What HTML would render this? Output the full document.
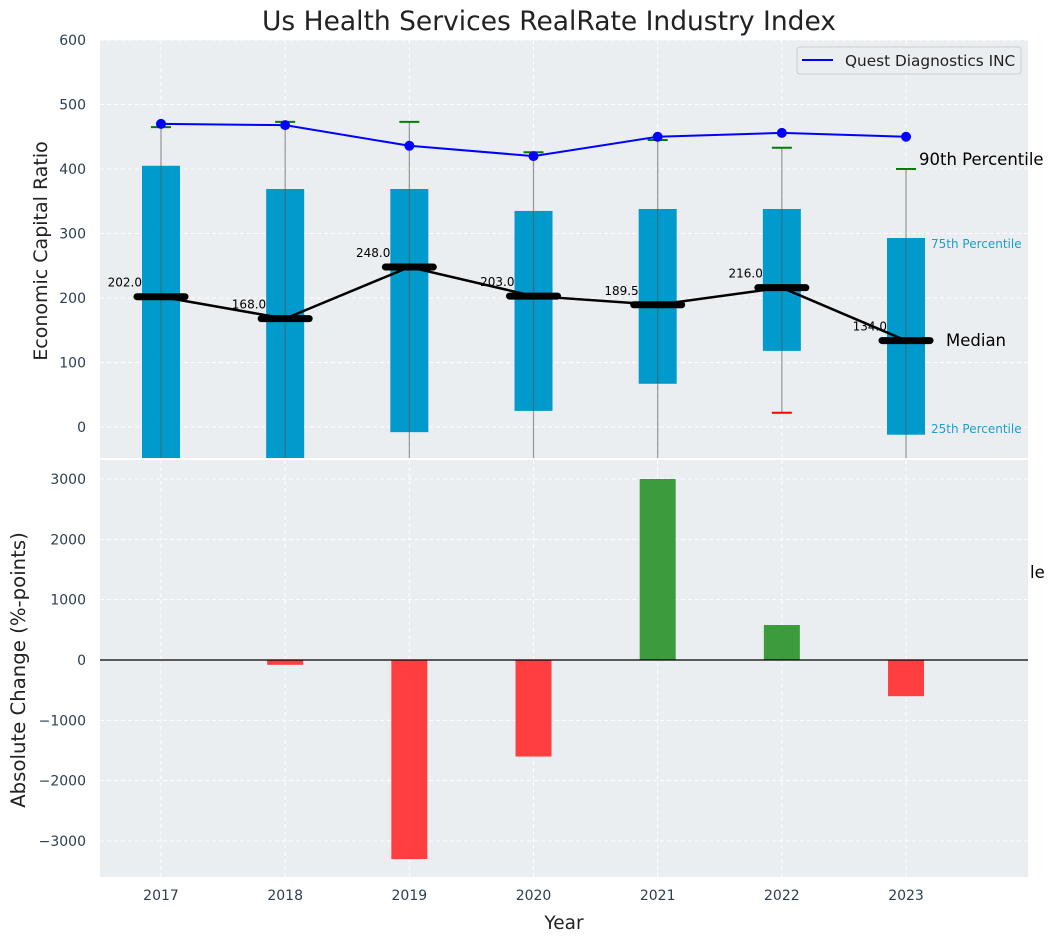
<!DOCTYPE html>
<html><head><meta charset="utf-8"><style>
body{margin:0;background:#fff;}
svg{display:block;font-family:"DejaVu Sans","Liberation Sans",sans-serif;}
</style></head><body>
<svg id="c" width="1054" height="942" viewBox="0 0 1054 942"></svg>
<script>
const years=[2017,2018,2019,2020,2021,2022,2023];
const q75=[405,369,369,335,338,338,293];
const q25=[-100,-100,-8,25,67,118,-12];
const p90=[465,473,473,426,445,433,400];
const p10=[-200,-200,-200,-200,-200,22,-200];
const medians=[202,168,248,203,189.5,216,134];
const quest=[470,468,436,420,450,456,450];
const changes=[0,-80,-3300,-1600,3000,580,-600];
const topTicks=[0,100,200,300,400,500,600];
const botTicks=[-3000,-2000,-1000,0,1000,2000,3000];

const NS="http://www.w3.org/2000/svg";
const svg=document.getElementById('c');
function el(tag,attrs,parent){const e=document.createElementNS(NS,tag);for(const k in attrs)e.setAttribute(k,attrs[k]);(parent||svg).appendChild(e);return e;}
const L=100,R=1028;
const X=y=>161+(y-2017)*124.17;
const T0=40,T1=458,B0=460,B1=877;
const yT=v=>427-v*0.645;
const yB=v=>660-v*0.06033;
function txt(x,y,s,attrs,name){const t=el('text',Object.assign({x:x,y:y},attrs));t.textContent=s;return t;}

const bgT=el('rect',{x:L,y:T0,width:R-L,height:T1-T0,fill:'#eaeef0'});


const clipT=el('clipPath',{id:'ct'});el('rect',{x:L,y:T0,width:R-L,height:T1-T0},clipT);
const clipB=el('clipPath',{id:'cb'});el('rect',{x:L,y:B0,width:R-L,height:B1-B0},clipB);
const gT=el('g',{'clip-path':'url(#ct)'});


topTicks.forEach(v=>{el('line',{x1:L,x2:R,y1:yT(v),y2:yT(v),stroke:'#fff','stroke-dasharray':'4,3','stroke-width':1},gT);
 txt(L-14,yT(v)+5,String(v),{'text-anchor':'end','font-size':14,fill:'#2c3e50'},'y-tick-label');});
years.forEach(y=>el('line',{x1:X(y),x2:X(y),y1:T0,y2:T1,stroke:'#fff','stroke-dasharray':'4,3'},gT));
years.forEach((y,i)=>{
 const b=el('rect',{x:X(y)-19,y:yT(q75[i]),width:38,height:yT(q25[i])-yT(q75[i]),fill:'#009bcc'},gT);
 
 
 el('line',{x1:X(y),x2:X(y),y1:yT(p90[i]),y2:yT(p10[i]),stroke:'#555','stroke-opacity':0.6,'stroke-width':1.2},gT);
 el('line',{x1:X(y)-10,x2:X(y)+10,y1:yT(p90[i]),y2:yT(p90[i]),stroke:'green','stroke-width':2},gT);
 el('line',{x1:X(y)-10,x2:X(y)+10,y1:yT(p10[i]),y2:yT(p10[i]),stroke:'red','stroke-width':2},gT);
});
el('polyline',{points:years.map((y,i)=>X(y)+','+yT(medians[i])).join(' '),fill:'none',stroke:'#000','stroke-width':2.5},gT);
years.forEach((y,i)=>{
 const m=el('line',{x1:X(y)-24,x2:X(y)+24,y1:yT(medians[i]),y2:yT(medians[i]),stroke:'#000','stroke-width':7,'stroke-linecap':'round'},gT);
 
 
 txt(X(y)-19,yT(medians[i])-10,medians[i].toFixed(1),{'text-anchor':'end','font-size':12,fill:'#000'},'median-label');
});
el('polyline',{points:years.map((y,i)=>X(y)+','+yT(quest[i])).join(' '),fill:'none',stroke:'#0000ff','stroke-width':2},gT);
years.forEach((y,i)=>{const c=el('circle',{cx:X(y),cy:yT(quest[i]),r:5,fill:'#0000ff'},gT);
 
 });
txt(919,165,'90th Percentile',{'font-size':16.5,fill:'#000'},'p90-annotation');
txt(931,248,'75th Percentile',{'font-size':12,fill:'#1a9fcc'},'p75-annotation');
txt(946,346,'Median',{'font-size':16.5,fill:'#000'},'median-annotation');
txt(931,433,'25th Percentile',{'font-size':12,fill:'#1a9fcc'},'p25-annotation');
const lg=el('g',{});


el('rect',{x:797,y:47,width:224,height:27,rx:3,fill:'#eaeef0',stroke:'#ccc'},lg);
el('line',{x1:802,x2:833,y1:60,y2:60,stroke:'#0000ff','stroke-width':2},lg);
txt(845,66,'Quest Diagnostics INC',{'font-size':15.3,fill:'#222'},'legend-entry');
txt(549,30,'Us Health Services RealRate Industry Index',{'text-anchor':'middle','font-size':26.5,fill:'#222'},'chart-title');
txt(0,0,'Economic Capital Ratio',{'text-anchor':'middle','font-size':19,fill:'#222',transform:'translate(47,251) rotate(-90)'},'y-axis-title');

const bgB=el('rect',{x:L,y:B0,width:R-L,height:B1-B0,fill:'#eaeef0'});


const gB=el('g',{'clip-path':'url(#cb)'});


botTicks.forEach(v=>{el('line',{x1:L,x2:R,y1:yB(v),y2:yB(v),stroke:'#fff','stroke-dasharray':'4,3'},gB);
 txt(L-14,yB(v)+5,(v<0?'\u2212'+(-v):String(v)),{'text-anchor':'end','font-size':14,fill:'#2c3e50'},'y-tick-label');});
years.forEach(y=>el('line',{x1:X(y),x2:X(y),y1:B0,y2:B1,stroke:'#fff','stroke-dasharray':'4,3'},gB));
years.forEach((y,i)=>{const v=changes[i];
 const r=el('rect',{x:X(y)-18,y:Math.min(yB(v),yB(0)),width:36,height:Math.abs(yB(v)-yB(0)),fill:v>=0?'#3a9c3a':'#ff3f3f'},gB);
 
 
 txt(X(y),900,String(y),{'text-anchor':'middle','font-size':14,fill:'#2c3e50'},'x-tick-label');
});
el('line',{x1:L,x2:R,y1:yB(0),y2:yB(0),stroke:'#000','stroke-width':1.2},gB);
txt(1030,578,'le',{'font-size':16.5,fill:'#000'},'clipped-annotation');
txt(564,929,'Year',{'text-anchor':'middle','font-size':18.5,fill:'#222'},'x-axis-title');
txt(0,0,'Absolute Change (%-points)',{'text-anchor':'middle','font-size':19.7,fill:'#222',transform:'translate(25,670) rotate(-90)'},'y-axis-title-bottom');
</script>
</body></html>
